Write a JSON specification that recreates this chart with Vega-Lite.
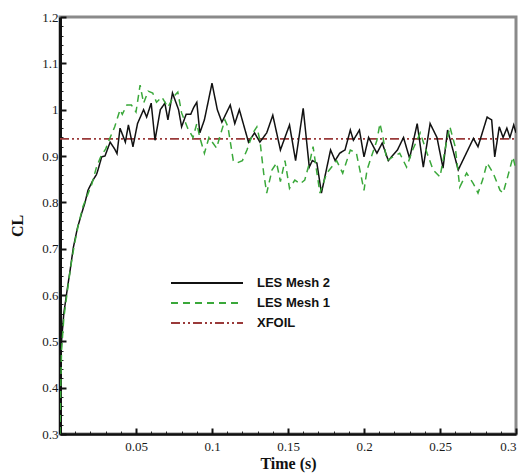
{
  "$schema": "https://vega.github.io/schema/vega-lite/v6.json",
  "width": 456,
  "height": 417,
  "autosize": "none",
  "padding": {"left": 60, "top": 17, "right": 11, "bottom": 40},
  "background": "white",
  "config": {
    "view": {"stroke": "#8a8a8a", "strokeWidth": 3},
    "axis": {"grid": false, "labelFont": "Liberation Serif", "titleFont": "Liberation Serif", "labelColor": "#1a1a1a", "titleColor": "#111"}
  },
  "datasets": {
    "les": [
      {"t": 0, "cl": 0.30, "s": "LES Mesh 2"},
      {"t": 0.0005, "cl": 0.45, "s": "LES Mesh 2"},
      {"t": 0.001, "cl": 0.50, "s": "LES Mesh 2"},
      {"t": 0.0025, "cl": 0.56, "s": "LES Mesh 2"},
      {"t": 0.0044, "cl": 0.604, "s": "LES Mesh 2"},
      {"t": 0.0065, "cl": 0.65, "s": "LES Mesh 2"},
      {"t": 0.0088, "cl": 0.703, "s": "LES Mesh 2"},
      {"t": 0.0115, "cl": 0.745, "s": "LES Mesh 2"},
      {"t": 0.0143, "cl": 0.777, "s": "LES Mesh 2"},
      {"t": 0.0165, "cl": 0.80, "s": "LES Mesh 2"},
      {"t": 0.0184, "cl": 0.826, "s": "LES Mesh 2"},
      {"t": 0.0217, "cl": 0.848, "s": "LES Mesh 2"},
      {"t": 0.024, "cl": 0.86, "s": "LES Mesh 2"},
      {"t": 0.025, "cl": 0.87, "s": "LES Mesh 2"},
      {"t": 0.0274, "cl": 0.898, "s": "LES Mesh 2"},
      {"t": 0.0296, "cl": 0.90, "s": "LES Mesh 2"},
      {"t": 0.033, "cl": 0.93, "s": "LES Mesh 2"},
      {"t": 0.036, "cl": 0.915, "s": "LES Mesh 2"},
      {"t": 0.0375, "cl": 0.905, "s": "LES Mesh 2"},
      {"t": 0.0395, "cl": 0.96, "s": "LES Mesh 2"},
      {"t": 0.043, "cl": 0.93, "s": "LES Mesh 2"},
      {"t": 0.045, "cl": 0.967, "s": "LES Mesh 2"},
      {"t": 0.048, "cl": 0.92, "s": "LES Mesh 2"},
      {"t": 0.051, "cl": 0.97, "s": "LES Mesh 2"},
      {"t": 0.055, "cl": 1.0, "s": "LES Mesh 2"},
      {"t": 0.057, "cl": 0.984, "s": "LES Mesh 2"},
      {"t": 0.06, "cl": 1.014, "s": "LES Mesh 2"},
      {"t": 0.0625, "cl": 0.934, "s": "LES Mesh 2"},
      {"t": 0.066, "cl": 1.0, "s": "LES Mesh 2"},
      {"t": 0.069, "cl": 1.014, "s": "LES Mesh 2"},
      {"t": 0.071, "cl": 0.978, "s": "LES Mesh 2"},
      {"t": 0.074, "cl": 1.036, "s": "LES Mesh 2"},
      {"t": 0.078, "cl": 1.0, "s": "LES Mesh 2"},
      {"t": 0.08, "cl": 0.963, "s": "LES Mesh 2"},
      {"t": 0.083, "cl": 0.99, "s": "LES Mesh 2"},
      {"t": 0.086, "cl": 0.99, "s": "LES Mesh 2"},
      {"t": 0.088, "cl": 1.005, "s": "LES Mesh 2"},
      {"t": 0.09, "cl": 1.016, "s": "LES Mesh 2"},
      {"t": 0.092, "cl": 0.95, "s": "LES Mesh 2"},
      {"t": 0.095, "cl": 0.978, "s": "LES Mesh 2"},
      {"t": 0.1, "cl": 1.057, "s": "LES Mesh 2"},
      {"t": 0.1035, "cl": 1.0, "s": "LES Mesh 2"},
      {"t": 0.1065, "cl": 0.973, "s": "LES Mesh 2"},
      {"t": 0.112, "cl": 1.01, "s": "LES Mesh 2"},
      {"t": 0.115, "cl": 0.97, "s": "LES Mesh 2"},
      {"t": 0.118, "cl": 1.0, "s": "LES Mesh 2"},
      {"t": 0.124, "cl": 0.93, "s": "LES Mesh 2"},
      {"t": 0.128, "cl": 0.95, "s": "LES Mesh 2"},
      {"t": 0.1315, "cl": 0.93, "s": "LES Mesh 2"},
      {"t": 0.136, "cl": 0.95, "s": "LES Mesh 2"},
      {"t": 0.14, "cl": 0.988, "s": "LES Mesh 2"},
      {"t": 0.145, "cl": 0.913, "s": "LES Mesh 2"},
      {"t": 0.151, "cl": 0.967, "s": "LES Mesh 2"},
      {"t": 0.155, "cl": 0.89, "s": "LES Mesh 2"},
      {"t": 0.16, "cl": 1.003, "s": "LES Mesh 2"},
      {"t": 0.164, "cl": 0.876, "s": "LES Mesh 2"},
      {"t": 0.166, "cl": 0.89, "s": "LES Mesh 2"},
      {"t": 0.169, "cl": 0.885, "s": "LES Mesh 2"},
      {"t": 0.172, "cl": 0.82, "s": "LES Mesh 2"},
      {"t": 0.178, "cl": 0.913, "s": "LES Mesh 2"},
      {"t": 0.181, "cl": 0.89, "s": "LES Mesh 2"},
      {"t": 0.184, "cl": 0.906, "s": "LES Mesh 2"},
      {"t": 0.1875, "cl": 0.913, "s": "LES Mesh 2"},
      {"t": 0.191, "cl": 0.956, "s": "LES Mesh 2"},
      {"t": 0.193, "cl": 0.934, "s": "LES Mesh 2"},
      {"t": 0.197, "cl": 0.956, "s": "LES Mesh 2"},
      {"t": 0.2, "cl": 0.898, "s": "LES Mesh 2"},
      {"t": 0.203, "cl": 0.94, "s": "LES Mesh 2"},
      {"t": 0.2085, "cl": 0.906, "s": "LES Mesh 2"},
      {"t": 0.212, "cl": 0.928, "s": "LES Mesh 2"},
      {"t": 0.216, "cl": 0.89, "s": "LES Mesh 2"},
      {"t": 0.222, "cl": 0.913, "s": "LES Mesh 2"},
      {"t": 0.226, "cl": 0.94, "s": "LES Mesh 2"},
      {"t": 0.23, "cl": 0.895, "s": "LES Mesh 2"},
      {"t": 0.235, "cl": 0.97, "s": "LES Mesh 2"},
      {"t": 0.239, "cl": 0.876, "s": "LES Mesh 2"},
      {"t": 0.2435, "cl": 0.97, "s": "LES Mesh 2"},
      {"t": 0.248, "cl": 0.94, "s": "LES Mesh 2"},
      {"t": 0.252, "cl": 0.874, "s": "LES Mesh 2"},
      {"t": 0.255, "cl": 0.956, "s": "LES Mesh 2"},
      {"t": 0.262, "cl": 0.87, "s": "LES Mesh 2"},
      {"t": 0.272, "cl": 0.938, "s": "LES Mesh 2"},
      {"t": 0.275, "cl": 0.92, "s": "LES Mesh 2"},
      {"t": 0.281, "cl": 0.984, "s": "LES Mesh 2"},
      {"t": 0.284, "cl": 0.978, "s": "LES Mesh 2"},
      {"t": 0.286, "cl": 0.898, "s": "LES Mesh 2"},
      {"t": 0.289, "cl": 0.963, "s": "LES Mesh 2"},
      {"t": 0.2915, "cl": 0.94, "s": "LES Mesh 2"},
      {"t": 0.294, "cl": 0.96, "s": "LES Mesh 2"},
      {"t": 0.296, "cl": 0.94, "s": "LES Mesh 2"},
      {"t": 0.2985, "cl": 0.967, "s": "LES Mesh 2"},
      {"t": 0.3, "cl": 0.95, "s": "LES Mesh 2"},
      {"t": 0, "cl": 0.30, "s": "LES Mesh 1"},
      {"t": 0.0005, "cl": 0.40, "s": "LES Mesh 1"},
      {"t": 0.001, "cl": 0.48, "s": "LES Mesh 1"},
      {"t": 0.0025, "cl": 0.55, "s": "LES Mesh 1"},
      {"t": 0.0045, "cl": 0.60, "s": "LES Mesh 1"},
      {"t": 0.007, "cl": 0.66, "s": "LES Mesh 1"},
      {"t": 0.0095, "cl": 0.71, "s": "LES Mesh 1"},
      {"t": 0.012, "cl": 0.75, "s": "LES Mesh 1"},
      {"t": 0.015, "cl": 0.79, "s": "LES Mesh 1"},
      {"t": 0.018, "cl": 0.815, "s": "LES Mesh 1"},
      {"t": 0.021, "cl": 0.84, "s": "LES Mesh 1"},
      {"t": 0.024, "cl": 0.876, "s": "LES Mesh 1"},
      {"t": 0.027, "cl": 0.90, "s": "LES Mesh 1"},
      {"t": 0.030, "cl": 0.915, "s": "LES Mesh 1"},
      {"t": 0.033, "cl": 0.94, "s": "LES Mesh 1"},
      {"t": 0.036, "cl": 0.963, "s": "LES Mesh 1"},
      {"t": 0.0395, "cl": 1.0, "s": "LES Mesh 1"},
      {"t": 0.041, "cl": 0.99, "s": "LES Mesh 1"},
      {"t": 0.044, "cl": 1.01, "s": "LES Mesh 1"},
      {"t": 0.047, "cl": 1.01, "s": "LES Mesh 1"},
      {"t": 0.05, "cl": 0.995, "s": "LES Mesh 1"},
      {"t": 0.0527, "cl": 1.053, "s": "LES Mesh 1"},
      {"t": 0.055, "cl": 1.014, "s": "LES Mesh 1"},
      {"t": 0.058, "cl": 1.04, "s": "LES Mesh 1"},
      {"t": 0.061, "cl": 1.036, "s": "LES Mesh 1"},
      {"t": 0.0635, "cl": 1.016, "s": "LES Mesh 1"},
      {"t": 0.067, "cl": 1.027, "s": "LES Mesh 1"},
      {"t": 0.071, "cl": 1.005, "s": "LES Mesh 1"},
      {"t": 0.0745, "cl": 1.027, "s": "LES Mesh 1"},
      {"t": 0.0775, "cl": 1.038, "s": "LES Mesh 1"},
      {"t": 0.08, "cl": 0.993, "s": "LES Mesh 1"},
      {"t": 0.084, "cl": 0.96, "s": "LES Mesh 1"},
      {"t": 0.0875, "cl": 0.94, "s": "LES Mesh 1"},
      {"t": 0.09, "cl": 0.97, "s": "LES Mesh 1"},
      {"t": 0.092, "cl": 0.94, "s": "LES Mesh 1"},
      {"t": 0.095, "cl": 0.906, "s": "LES Mesh 1"},
      {"t": 0.098, "cl": 0.94, "s": "LES Mesh 1"},
      {"t": 0.103, "cl": 0.917, "s": "LES Mesh 1"},
      {"t": 0.105, "cl": 0.94, "s": "LES Mesh 1"},
      {"t": 0.1085, "cl": 0.978, "s": "LES Mesh 1"},
      {"t": 0.1105, "cl": 0.963, "s": "LES Mesh 1"},
      {"t": 0.114, "cl": 0.89, "s": "LES Mesh 1"},
      {"t": 0.1165, "cl": 0.885, "s": "LES Mesh 1"},
      {"t": 0.12, "cl": 0.89, "s": "LES Mesh 1"},
      {"t": 0.123, "cl": 0.913, "s": "LES Mesh 1"},
      {"t": 0.127, "cl": 0.95, "s": "LES Mesh 1"},
      {"t": 0.1295, "cl": 0.963, "s": "LES Mesh 1"},
      {"t": 0.1315, "cl": 0.934, "s": "LES Mesh 1"},
      {"t": 0.134, "cl": 0.863, "s": "LES Mesh 1"},
      {"t": 0.136, "cl": 0.82, "s": "LES Mesh 1"},
      {"t": 0.1395, "cl": 0.87, "s": "LES Mesh 1"},
      {"t": 0.1425, "cl": 0.885, "s": "LES Mesh 1"},
      {"t": 0.145, "cl": 0.845, "s": "LES Mesh 1"},
      {"t": 0.148, "cl": 0.89, "s": "LES Mesh 1"},
      {"t": 0.151, "cl": 0.83, "s": "LES Mesh 1"},
      {"t": 0.1545, "cl": 0.848, "s": "LES Mesh 1"},
      {"t": 0.158, "cl": 0.84, "s": "LES Mesh 1"},
      {"t": 0.161, "cl": 0.848, "s": "LES Mesh 1"},
      {"t": 0.1645, "cl": 0.89, "s": "LES Mesh 1"},
      {"t": 0.1665, "cl": 0.92, "s": "LES Mesh 1"},
      {"t": 0.171, "cl": 0.82, "s": "LES Mesh 1"},
      {"t": 0.1755, "cl": 0.863, "s": "LES Mesh 1"},
      {"t": 0.182, "cl": 0.89, "s": "LES Mesh 1"},
      {"t": 0.186, "cl": 0.863, "s": "LES Mesh 1"},
      {"t": 0.191, "cl": 0.913, "s": "LES Mesh 1"},
      {"t": 0.195, "cl": 0.906, "s": "LES Mesh 1"},
      {"t": 0.2, "cl": 0.826, "s": "LES Mesh 1"},
      {"t": 0.202, "cl": 0.87, "s": "LES Mesh 1"},
      {"t": 0.204, "cl": 0.89, "s": "LES Mesh 1"},
      {"t": 0.2085, "cl": 0.934, "s": "LES Mesh 1"},
      {"t": 0.2105, "cl": 0.97, "s": "LES Mesh 1"},
      {"t": 0.2125, "cl": 0.94, "s": "LES Mesh 1"},
      {"t": 0.215, "cl": 0.89, "s": "LES Mesh 1"},
      {"t": 0.219, "cl": 0.898, "s": "LES Mesh 1"},
      {"t": 0.2235, "cl": 0.906, "s": "LES Mesh 1"},
      {"t": 0.228, "cl": 0.876, "s": "LES Mesh 1"},
      {"t": 0.232, "cl": 0.913, "s": "LES Mesh 1"},
      {"t": 0.237, "cl": 0.95, "s": "LES Mesh 1"},
      {"t": 0.2415, "cl": 0.906, "s": "LES Mesh 1"},
      {"t": 0.2455, "cl": 0.87, "s": "LES Mesh 1"},
      {"t": 0.25, "cl": 0.855, "s": "LES Mesh 1"},
      {"t": 0.2545, "cl": 0.934, "s": "LES Mesh 1"},
      {"t": 0.2565, "cl": 0.963, "s": "LES Mesh 1"},
      {"t": 0.26, "cl": 0.92, "s": "LES Mesh 1"},
      {"t": 0.263, "cl": 0.833, "s": "LES Mesh 1"},
      {"t": 0.2675, "cl": 0.863, "s": "LES Mesh 1"},
      {"t": 0.272, "cl": 0.84, "s": "LES Mesh 1"},
      {"t": 0.275, "cl": 0.82, "s": "LES Mesh 1"},
      {"t": 0.278, "cl": 0.848, "s": "LES Mesh 1"},
      {"t": 0.281, "cl": 0.885, "s": "LES Mesh 1"},
      {"t": 0.285, "cl": 0.863, "s": "LES Mesh 1"},
      {"t": 0.2895, "cl": 0.826, "s": "LES Mesh 1"},
      {"t": 0.2915, "cl": 0.82, "s": "LES Mesh 1"},
      {"t": 0.2945, "cl": 0.855, "s": "LES Mesh 1"},
      {"t": 0.298, "cl": 0.898, "s": "LES Mesh 1"},
      {"t": 0.3, "cl": 0.87, "s": "LES Mesh 1"}
    ],
    "xfoil": [
      {"t": 0, "cl": 0.937, "s": "XFOIL"},
      {"t": 0.3, "cl": 0.937, "s": "XFOIL"}
    ]
  },
  "resolve": {"axis": {"x": "independent", "y": "independent"}},
  "layer": [
    {
      "data": {"name": "xfoil"},
      "mark": {"type": "line", "strokeWidth": 1.6, "clip": true},
      "encoding": {
        "x": {"field": "t", "type": "quantitative", "scale": {"domain": [0, 0.3], "nice": false},
          "axis": {"orient": "bottom", "values": [0.01,0.02,0.03,0.04,0.06,0.07,0.08,0.09,0.11,0.12,0.13,0.14,0.16,0.17,0.18,0.19,0.21,0.22,0.23,0.24,0.26,0.27,0.28,0.29], "labels": false, "domain": false, "tickSize": -3, "tickWidth": 1, "tickColor": "#222", "title": null}},
        "y": {"field": "cl", "type": "quantitative", "scale": {"domain": [0.3, 1.2], "nice": false, "zero": false},
          "axis": {"orient": "left", "values": [0.32,0.34,0.36,0.38,0.42,0.44,0.46,0.48,0.52,0.54,0.56,0.58,0.62,0.64,0.66,0.68,0.72,0.74,0.76,0.78,0.82,0.84,0.86,0.88,0.92,0.94,0.96,0.98,1.02,1.04,1.06,1.08,1.12,1.14,1.16,1.18], "labels": false, "domain": false, "tickSize": -3, "tickWidth": 1, "tickColor": "#222", "title": null}},
        "color": {"field": "s", "type": "nominal"},
        "strokeDash": {"field": "s", "type": "nominal"},
        "order": {"field": "t", "type": "quantitative"}
      }
    },
    {
      "data": {"name": "les"},
      "mark": {"type": "line", "strokeWidth": 1.5, "clip": true},
      "encoding": {
        "x": {"field": "t", "type": "quantitative",
          "axis": {"orient": "bottom", "values": [0.05, 0.1, 0.15, 0.2, 0.25, 0.3], "format": "~g", "tickSize": -6, "tickWidth": 2, "tickColor": "#111", "domainColor": "#111", "domainWidth": 2.5, "labelFontSize": 13, "labelPadding": 12, "title": "Time (s)", "titleFontSize": 16, "titleFontWeight": "bold", "titlePadding": 2}},
        "y": {"field": "cl", "type": "quantitative",
          "axis": {"orient": "left", "values": [0.3,0.4,0.5,0.6,0.7,0.8,0.9,1,1.1,1.2], "format": "~g", "tickSize": -6, "tickWidth": 2, "tickColor": "#111", "domainColor": "#111", "domainWidth": 3, "labelFontSize": 13, "labelPadding": 8, "title": "CL", "titleFontSize": 16, "titleFontWeight": "bold", "titlePadding": 16}},
        "color": {"field": "s", "type": "nominal",
          "scale": {"domain": ["LES Mesh 2", "LES Mesh 1", "XFOIL"], "range": ["#111111", "#3aa83a", "#9a3a3a"]},
          "legend": {"title": null, "orient": "none", "legendX": 140, "legendY": 259, "symbolType": "M-6,0L6,0", "symbolSize": 144, "symbolStrokeWidth": 1.8, "labelFont": "Liberation Sans", "labelFontWeight": "bold", "labelFontSize": 13, "labelColor": "#111", "labelOffset": 43, "rowPadding": 6, "padding": 0}},
        "strokeDash": {"field": "s", "type": "nominal",
          "scale": {"domain": ["LES Mesh 2", "LES Mesh 1", "XFOIL"], "range": [[1, 0], [7, 5], [9, 3, 2, 3, 2, 3]]},
          "legend": null},
        "order": {"field": "t", "type": "quantitative"}
      }
    }
  ]
}
